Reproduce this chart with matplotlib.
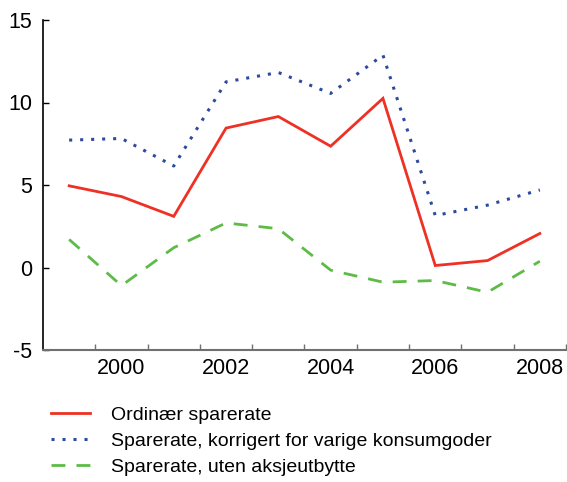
import matplotlib
matplotlib.use("Agg")
import matplotlib.pyplot as plt
from matplotlib.ticker import FixedLocator

plt.rcParams['font.family'] = ['Liberation Sans', 'DejaVu Sans']

years = [1999, 2000, 2001, 2002, 2003, 2004, 2005, 2006, 2007, 2008]
ordinaer = [4.95, 4.3, 3.1, 8.45, 9.15, 7.35, 10.25, 0.12, 0.42, 2.06]
korrigert = [7.72, 7.82, 6.15, 11.25, 11.82, 10.55, 12.87, 3.15, 3.78, 4.7]
uten_utbytte = [1.7, -1.1, 1.2, 2.7, 2.35, -0.16, -0.89, -0.79, -1.5, 0.38]
labels = ["Ordinær sparerate",
          "Sparerate, korrigert for varige konsumgoder",
          "Sparerate, uten aksjeutbytte"]
xtick_labels = [2000, 2002, 2004, 2006, 2008]
yticks = [-5, 0, 5, 10, 15]

fig = plt.figure(figsize=(5.67, 4.82), dpi=100)
ax = fig.add_axes([43/567, 1-350/482, (566-43)/567, 330/482])

l1, = ax.plot(years, ordinaer, color='#EE3124', lw=2.0, solid_joinstyle='miter')
l2, = ax.plot(years, korrigert, color='#2E4A9E', lw=2.2, linestyle=(0, (1, 2.6)))
l3, = ax.plot(years, uten_utbytte, color='#5DBB46', lw=2.0, linestyle=(0, (5, 4)))

ax.set_xlim(years[0]-0.5, years[-1]+0.5)
ax.set_ylim(-5, 15)
ax.set_yticks(yticks)
ax.set_yticklabels([str(v) for v in yticks])
ax.set_xticks(xtick_labels)
ax.set_xticklabels([str(v) for v in xtick_labels])
ax.xaxis.set_minor_locator(FixedLocator([y + 0.5 for y in years[:-1]] + [years[-1] + 0.5]))
ax.tick_params(axis='x', which='major', length=0, labelsize=15.5, pad=6)
ax.tick_params(axis='x', which='minor', direction='in', length=4, width=1, color='#707070')
ax.tick_params(axis='y', which='major', direction='in', length=4, width=1, labelsize=15.5, pad=8)

for s in ['top', 'right']:
    ax.spines[s].set_visible(False)
ax.spines['left'].set_color('black')
ax.spines['left'].set_linewidth(1.2)
ax.spines['bottom'].set_color('#707070')
ax.spines['bottom'].set_linewidth(1.5)

fig.legend([l1, l2, l3], labels, loc='upper left', bbox_to_anchor=(43/567, 1-398.5/482),
           frameon=False, fontsize=14, handlelength=2.0, handletextpad=1.1,
           labelspacing=0.43, borderaxespad=0)

fig.savefig("out.png", dpi=100)
